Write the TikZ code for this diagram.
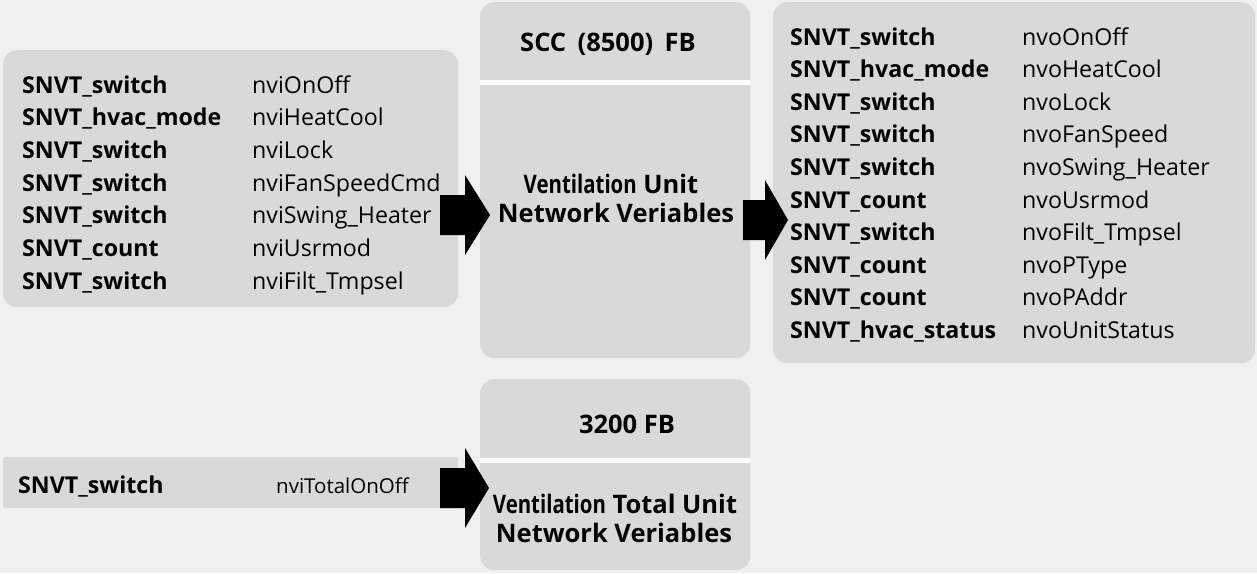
\documentclass[tikz,border=0pt]{standalone}
\usepackage{fontspec}
\setmainfont{Open Sans}
\definecolor{bggray}{HTML}{F0F0F0}
\definecolor{boxgray}{HTML}{D9D9D9}
\begin{document}
\begin{tikzpicture}[x=1pt,y=-1pt,
  box/.style={fill=boxgray, draw=none, inner sep=0pt, anchor=north west, rounded corners=14pt},
  bl/.style={anchor=base west, inner sep=0pt, font=\fontsize{23.2}{27}\selectfont\bfseries},
  rg/.style={anchor=base west, inner sep=0pt, font=\fontsize{23.2}{27}\selectfont},
  ttl/.style={anchor=base, inner sep=0pt, font=\fontsize{25.5}{30}\selectfont\bfseries},
  sep/.style={fill=white},
  blk/.style={fill=black}]
\fill[bggray] (0,0) rectangle (1257,573);
\useasboundingbox (0,0) rectangle (1257,573);
% boxes
\node[box, minimum width=455pt, minimum height=257pt] (inbox) at (3,50) {};
\node[box, minimum width=270pt, minimum height=356pt] (scc) at (480,2) {};
\node[box, minimum width=482pt, minimum height=361pt] (outbox) at (773,2) {};
\node[box, minimum width=270pt, minimum height=191pt] (fb) at (480,379) {};
\node[box, rounded corners=2pt, minimum width=455pt, minimum height=51pt] (totbox) at (3,457) {};
% separators
\fill[sep] (scc.west |- 0,80) rectangle (scc.east |- 0,85);
\fill[sep] (fb.west |- 0,458) rectangle (fb.east |- 0,463);
% titles
\node[ttl] (scct) at (608,51) {SCC\hspace{0.45em}(8500)\hspace{0.45em}FB};
\node[ttl] (scc1) at (611,193) {\scalebox{0.8}[1]{Ventilation} Unit};
\node[ttl] (scc2) at (616,222) {Network Veriables};
\node[ttl] (fbt) at (627,433) {3200 FB};
\node[ttl] (fb1) at (615,513) {\scalebox{0.8}[1]{Ventilation} Total Unit};
\node[ttl] (fb2) at (614,542) {Network Veriables};
% left inputs
\foreach \t/\n [count=\i from 0] in {SNVT\_switch/nviOnOff, SNVT\_hvac\_mode/nviHeatCool, SNVT\_switch/nviLock, SNVT\_switch/nviFanSpeedCmd, SNVT\_switch/nviSwing\_Heater, SNVT\_count/nviUsrmod, SNVT\_switch/nviFilt\_Tmpsel}{
  \node[bl] (it\i) at (22,93+32.7*\i) {\t};
  \node[rg] (in\i) at (252,93+32.7*\i) {\n};
}
% right outputs
\foreach \t/\n [count=\i from 0] in {SNVT\_switch/nvoOnOff, SNVT\_hvac\_mode/nvoHeatCool, SNVT\_switch/nvoLock, SNVT\_switch/nvoFanSpeed, SNVT\_switch/nvoSwing\_Heater, SNVT\_count/nvoUsrmod, SNVT\_switch/nvoFilt\_Tmpsel, SNVT\_count/nvoPType, SNVT\_count/nvoPAddr, SNVT\_hvac\_status/nvoUnitStatus}{
  \node[bl] (ot\i) at (790,45+32.6*\i) {\t};
  \node[rg] (on\i) at (1022,45+32.6*\i) {\n};
}
% total
\node[bl] (tt) at (18,493) {SNVT\_switch};
\node[rg, font=\fontsize{20.5}{24}\selectfont] (tn) at (276,493) {nviTotalOnOff};
% block arrows
\fill[blk] (440,195) -- (465,195) -- (465,175) -- (490,215) -- (465,255) -- (465,235) -- (440,235) -- cycle;
\fill[blk] (743,200) -- (765,200) -- (765,180) -- (788,220) -- (765,260) -- (765,240) -- (743,240) -- cycle;
\fill[blk] (440,468) -- (465,468) -- (465,448) -- (489,488) -- (465,528) -- (465,508) -- (440,508) -- cycle;
\end{tikzpicture}
\end{document}
